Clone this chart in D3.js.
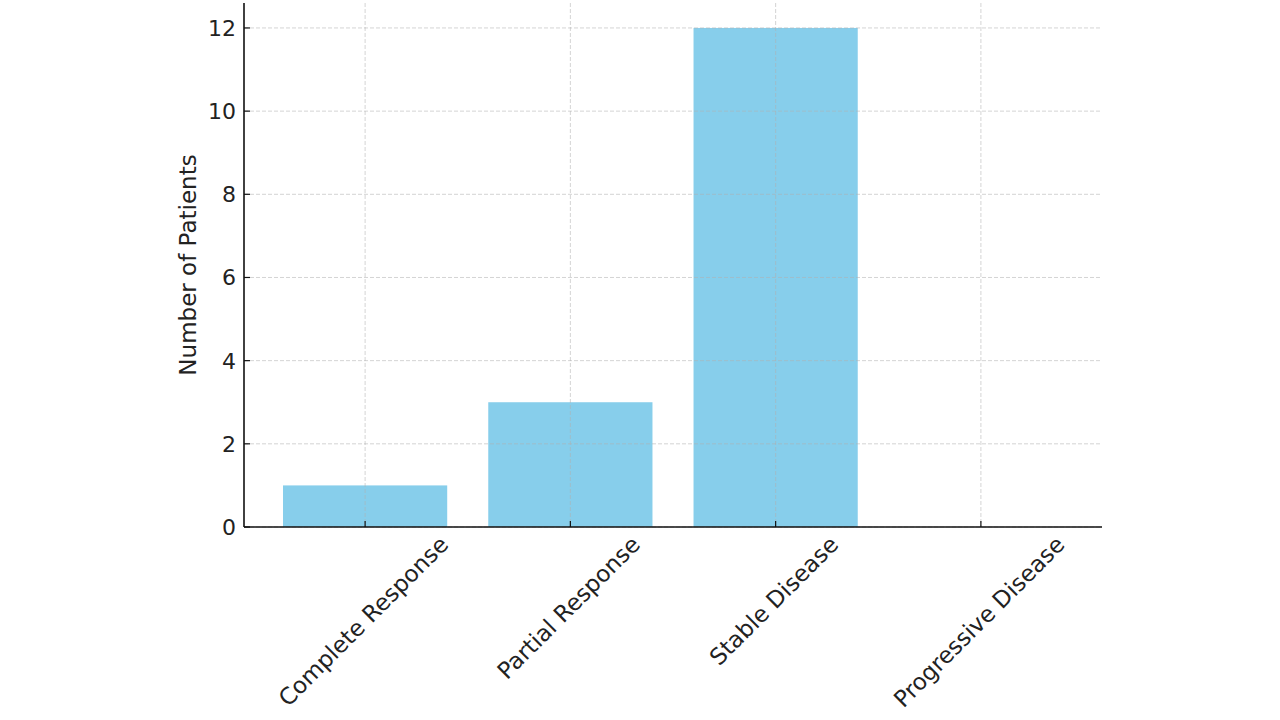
<!DOCTYPE html>
<html>
<head>
<meta charset="utf-8">
<script src="https://cdn.jsdelivr.net/npm/d3@7"></script>
<style>
  body { margin: 0; background: #fff; }
  text { font-family: "DejaVu Sans", sans-serif; fill: #222; }
</style>
</head>
<body>
<svg id="chart" width="1280" height="720"></svg>
<script>
// categories and values
const categories = ["Complete Response", "Partial Response", "Stable Disease", "Progressive Disease"];
const patients = [1, 3, 12, 0];
const yTicks = [0, 2, 4, 6, 8, 10, 12];
const yLabel = "Number of Patients";

const svg = d3.select("#chart");
const plotLeft = 244, plotRight = 1102, plotTop = 3, plotBottom = 527;

// x like matplotlib: bar width 0.8, 5% margins
const x = d3.scaleLinear().domain([-0.59, categories.length - 1 + 0.59]).range([plotLeft, plotRight]);
const y = d3.scaleLinear().domain([0, 12.6]).range([plotBottom, plotTop]);
const barW = x(0.8) - x(0);

// bars
svg.selectAll("rect.bar").data(patients).enter().append("rect")
    .attr("class", "bar")
    .attr("x", (d, i) => x(i) - barW / 2)
    .attr("y", d => y(d))
    .attr("width", barW)
    .attr("height", d => y(0) - y(d))
    .attr("fill", "#87ceeb");

// grid (drawn over bars, faint)
const grid = svg.append("g").attr("stroke", "#b0b0b0").attr("stroke-opacity", 0.55)
    .attr("stroke-width", 1).attr("stroke-dasharray", "4,2");
yTicks.forEach(t => {
    grid.append("line").attr("x1", plotLeft).attr("x2", plotRight).attr("y1", y(t)).attr("y2", y(t));
});
categories.forEach((c, i) => {
    grid.append("line").attr("x1", x(i)).attr("x2", x(i)).attr("y1", plotTop).attr("y2", plotBottom);
});

// spines
svg.append("line").attr("x1", plotLeft).attr("x2", plotLeft).attr("y1", plotTop).attr("y2", plotBottom)
    .attr("stroke", "#111").attr("stroke-width", 1.6);
svg.append("line").attr("x1", plotLeft).attr("x2", plotRight).attr("y1", plotBottom).attr("y2", plotBottom)
    .attr("stroke", "#111").attr("stroke-width", 1.6);

// y ticks (inward) and labels
yTicks.forEach(t => {
    svg.append("line").attr("x1", plotLeft).attr("x2", plotLeft + 6).attr("y1", y(t)).attr("y2", y(t))
        .attr("stroke", "#111").attr("stroke-width", 1.2);
    svg.append("text").attr("x", plotLeft - 8).attr("y", y(t)).attr("dy", "0.36em")
        .attr("text-anchor", "end").style("font-size", "22px").text(t);
});

// x ticks (inward) and rotated labels, bbox centred on tick
const xFont = 23;
categories.forEach((c, i) => {
    svg.append("line").attr("x1", x(i)).attr("x2", x(i)).attr("y1", plotBottom).attr("y2", plotBottom - 6)
        .attr("stroke", "#111").attr("stroke-width", 1.2);
    const t = svg.append("text").attr("text-anchor", "middle").attr("dy", "0.36em")
        .style("font-size", xFont + "px").text(c);
    const w = t.node().getComputedTextLength();
    const half = (w + xFont) / (2 * Math.SQRT2);
    t.attr("transform", `translate(${x(i) - 2},${plotBottom + 5 + half}) rotate(-45)`);
});

// y axis label
svg.append("text")
    .attr("transform", `translate(188,${(plotTop + plotBottom) / 2}) rotate(-90)`)
    .attr("text-anchor", "middle").attr("dy", "0.36em")
    .style("font-size", "23px").text(yLabel);
</script>
</body>
</html>
